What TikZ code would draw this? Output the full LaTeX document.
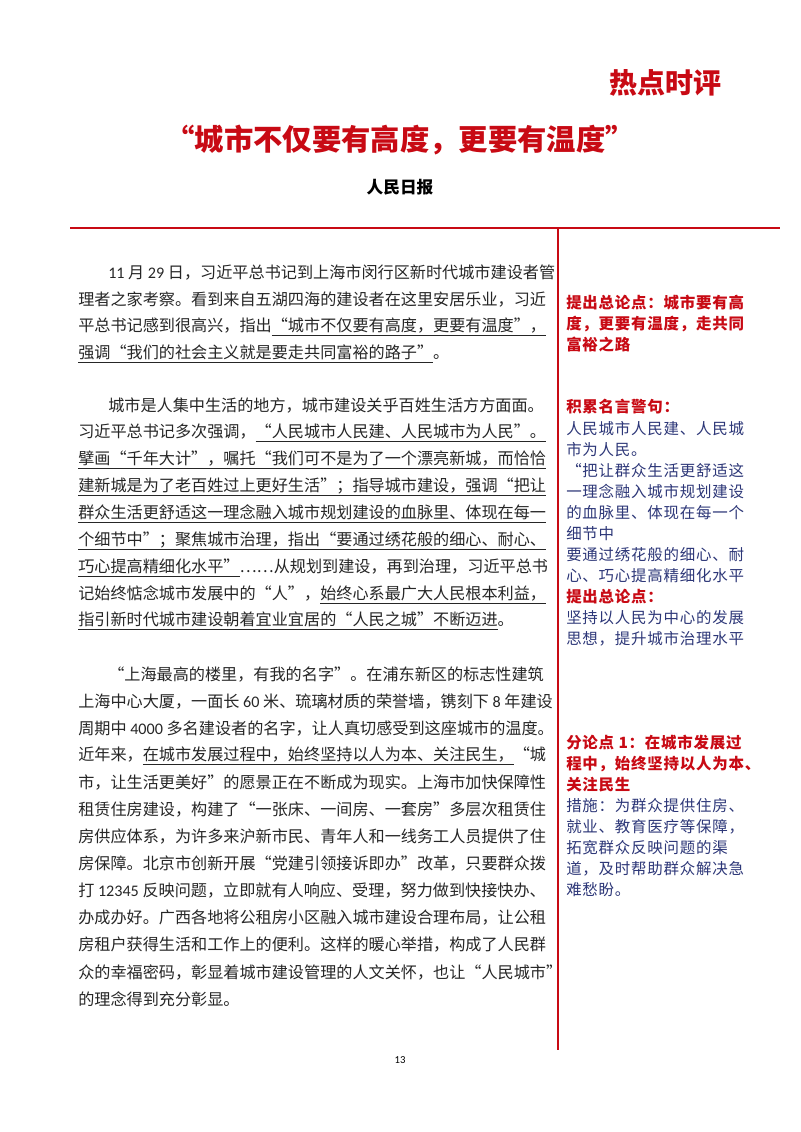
\documentclass[tikz,border=0pt]{standalone}
\usepackage{fontspec}
\setmainfont{Noto Sans CJK SC}
\newfontfamily\numf{Carlito}
\newfontfamily\sidef[LetterSpace=5]{Noto Sans CJK SC}
\definecolor{redc}{RGB}{200,10,20}
\definecolor{bluec}{RGB}{45,55,120}
\newcommand{\bl}[3]{\node[bodyt] (n#1x#2) at (#1,#2) {#3};}
\newcommand{\rl}[3]{\node[sidet] (s#1x#2) at (#1,#2) {#3};}
\newcommand{\rb}[3]{\node[sidet,text=redc,font=\sidef\fontsize{11.6}{13}\selectfont\bfseries] (r#1x#2) at (#1,#2) {#3};}
\newcommand{\ul}[1]{\underline{#1}}
\begin{document}
\begin{tikzpicture}[x=0.75pt,y=-0.75pt,
 bodyt/.style={anchor=west,inner sep=0pt,font=\fontsize{12.1}{14}\selectfont,text=black!85},
 sidet/.style={anchor=west,inner sep=0pt,font=\sidef\fontsize{11.6}{13}\selectfont,text=bluec}]
\useasboundingbox (0,0) rectangle (800,1132);
\fill[white] (0,0) rectangle (800,1132);
\node[text=redc,font=\fontsize{21}{24}\selectfont\bfseries] (hot) at (665,83) {热点时评};
\node[text=redc,font=\fontsize{22}{26}\selectfont\bfseries] (title) at (400,140) {“城市不仅要有高度，更要有温度”};
\node[font=\fontsize{12.5}{15}\selectfont\bfseries] (src) at (400,187) {人民日报};
\coordinate (hl) at (70,228); \coordinate (hr) at (780,228);
\draw[redc,line width=2pt] (hl) -- (hr);
\coordinate (vt) at (558,228); \coordinate (vb) at (558,1050);
\draw[redc,line width=2pt] (vt) -- (vb);
% para 1
\bl{108}{273}{{\numf 11} 月 {\numf 29} 日，习近平总书记到上海市闵行区新时代城市建设者管}
\bl{78}{300}{理者之家考察。看到来自五湖四海的建设者在这里安居乐业，习近}
\bl{78}{327}{平总书记感到很高兴，指出\ul{“城市不仅要有高度，更要有温度”，}}
\bl{78}{354}{\ul{强调“我们的社会主义就是要走共同富裕的路子”}。}
% para 2
\bl{108}{406}{城市是人集中生活的地方，城市建设关乎百姓生活方方面面。}
\bl{78}{433}{习近平总书记多次强调，\ul{“人民城市人民建、人民城市为人民”。}}
\bl{78}{460}{\ul{擘画“千年大计”，嘱托“我们可不是为了一个漂亮新城，而恰恰}}
\bl{78}{487}{\ul{建新城是为了老百姓过上更好生活”；指导城市建设，强调“把让}}
\bl{78}{514}{\ul{群众生活更舒适这一理念融入城市规划建设的血脉里、体现在每一}}
\bl{78}{541}{\ul{个细节中”；聚焦城市治理，指出“要通过绣花般的细心、耐心、}}
\bl{78}{568}{\ul{巧心提高精细化水平”}……从规划到建设，再到治理，习近平总书}
\bl{78}{595}{记始终惦念城市发展中的“人”，\ul{始终心系最广大人民根本利益，}}
\bl{78}{621}{\ul{指引新时代城市建设朝着宜业宜居的“人民之城”不断迈进}。}
% para 3
\bl{108}{675}{“上海最高的楼里，有我的名字”。在浦东新区的标志性建筑}
\bl{78}{702}{上海中心大厦，一面长 {\numf 60} 米、琉璃材质的荣誉墙，镌刻下 {\numf 8} 年建设}
\bl{78}{729}{周期中 {\numf 4000} 多名建设者的名字，让人真切感受到这座城市的温度。}
\bl{78}{756}{近年来，\ul{在城市发展过程中，始终坚持以人为本、关注民生，}“城}
\bl{78}{783}{市，让生活更美好”的愿景正在不断成为现实。上海市加快保障性}
\bl{78}{810}{租赁住房建设，构建了“一张床、一间房、一套房”多层次租赁住}
\bl{78}{837}{房供应体系，为许多来沪新市民、青年人和一线务工人员提供了住}
\bl{78}{864}{房保障。北京市创新开展“党建引领接诉即办”改革，只要群众拨}
\bl{78}{891}{打 {\numf 12345} 反映问题，立即就有人响应、受理，努力做到快接快办、}
\bl{78}{918}{办成办好。广西各地将公租房小区融入城市建设合理布局，让公租}
\bl{78}{945}{房租户获得生活和工作上的便利。这样的暖心举措，构成了人民群}
\bl{78}{972}{众的幸福密码，彰显着城市建设管理的人文关怀，也让“人民城市”}
\bl{78}{999}{的理念得到充分彰显。}
% side notes
\rb{566}{303}{提出总论点：城市要有高}
\rb{566}{324}{度，更要有温度，走共同}
\rb{566}{345}{富裕之路}
\rb{566}{407}{积累名言警句：}
\rl{566}{429}{人民城市人民建、人民城}
\rl{566}{450}{市为人民。}
\rl{566}{471}{“把让群众生活更舒适这}
\rl{566}{492}{一理念融入城市规划建设}
\rl{566}{513}{的血脉里、体现在每一个}
\rl{566}{534}{细节中}
\rl{566}{555}{要通过绣花般的细心、耐}
\rl{566}{576}{心、巧心提高精细化水平}
\rb{566}{597}{提出总论点：}
\rl{566}{618}{坚持以人民为中心的发展}
\rl{566}{639}{思想，提升城市治理水平}
\rb{566}{743}{分论点 1：在城市发展过}
\rb{566}{764}{程中，始终坚持以人为本、}
\rb{566}{785}{关注民生}
\rl{566}{806}{措施：为群众提供住房、}
\rl{566}{827}{就业、教育医疗等保障，}
\rl{566}{848}{拓宽群众反映问题的渠}
\rl{566}{869}{道，及时帮助群众解决急}
\rl{566}{890}{难愁盼。}
\node[font=\fontsize{8}{10}\selectfont\numf] (pg) at (400,1060) {13};
\end{tikzpicture}
\end{document}
